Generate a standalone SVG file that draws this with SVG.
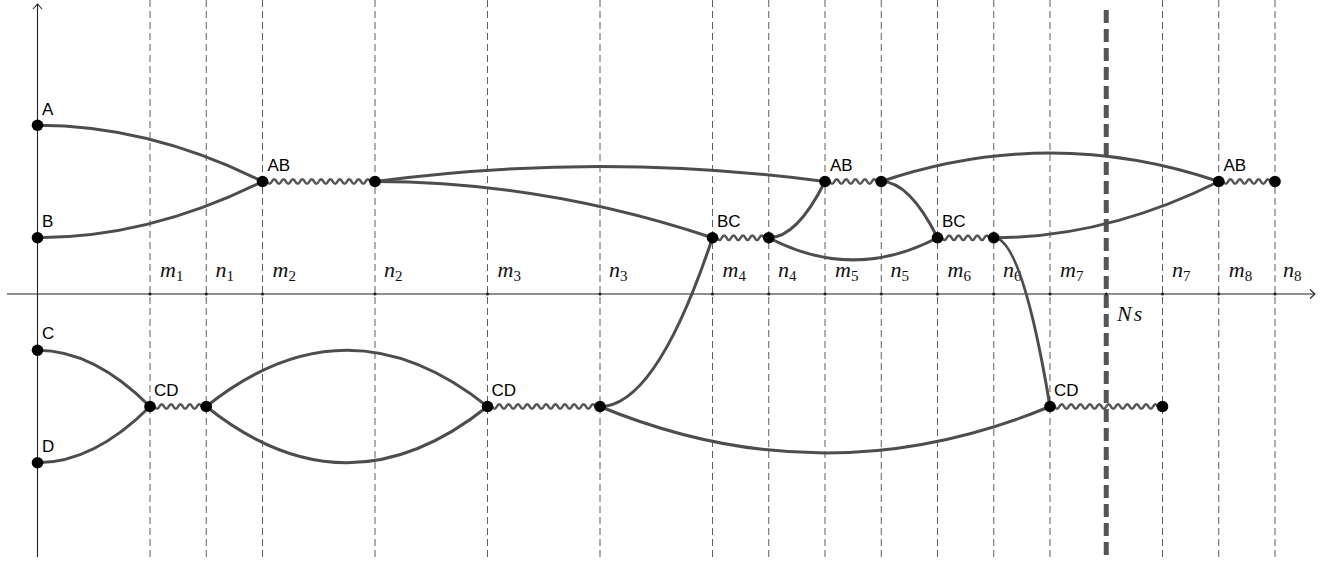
<svg xmlns="http://www.w3.org/2000/svg" xmlns:xlink="http://www.w3.org/1999/xlink" width="1343" height="562" viewBox="0 0 1343 562">
<style>
.grid{stroke:#5e5e5e;stroke-width:1;stroke-dasharray:7 4;fill:none}
.axis{stroke:#222;stroke-width:1.1;fill:none}
.curve{stroke:#4d4d4d;stroke-width:3;fill:none;stroke-linecap:round}
.wave{stroke:#555;stroke-width:2.6;fill:none}
.dot{fill:#000}
.tick{fill:#222}
.nl{font-family:"Liberation Sans",Arial,sans-serif;font-size:17px;fill:#000}
.lab{font-family:"Liberation Serif","Times New Roman",serif;font-style:italic;font-size:22px;fill:#111}
.sub{font-style:normal;font-size:15px}
.ns{stroke:#555;stroke-width:5;stroke-dasharray:13 6;fill:none}
</style>
<defs>
<path id="w" d="M0 0q2.344 -4.6 4.6875 0t4.6875 0t4.6875 0t4.6875 0t4.6875 0t4.6875 0t4.6875 0t4.6875 0t4.6875 0t4.6875 0t4.6875 0t4.6875 0"/>
</defs>
<rect width="1343" height="562" fill="#fff"/>
<g id="grid">
<line class="grid" x1="150" y1="0" x2="150" y2="557"/>
<line class="grid" x1="206.25" y1="0" x2="206.25" y2="557"/>
<line class="grid" x1="262.5" y1="0" x2="262.5" y2="557"/>
<line class="grid" x1="375" y1="0" x2="375" y2="557"/>
<line class="grid" x1="487.5" y1="0" x2="487.5" y2="557"/>
<line class="grid" x1="600" y1="0" x2="600" y2="557"/>
<line class="grid" x1="712.5" y1="0" x2="712.5" y2="557"/>
<line class="grid" x1="768.75" y1="0" x2="768.75" y2="557"/>
<line class="grid" x1="825" y1="0" x2="825" y2="557"/>
<line class="grid" x1="881.25" y1="0" x2="881.25" y2="557"/>
<line class="grid" x1="937.5" y1="0" x2="937.5" y2="557"/>
<line class="grid" x1="993.75" y1="0" x2="993.75" y2="557"/>
<line class="grid" x1="1050" y1="0" x2="1050" y2="557"/>
<line class="grid" x1="1162.5" y1="0" x2="1162.5" y2="557"/>
<line class="grid" x1="1218.75" y1="0" x2="1218.75" y2="557"/>
<line class="grid" x1="1275" y1="0" x2="1275" y2="557"/>
<line class="ns" x1="1106.25" y1="10" x2="1106.25" y2="557"/>
</g>
<g id="axes">
<line class="axis" x1="7" y1="294" x2="1315" y2="294"/>
<path class="axis" d="M1310 289.5L1315 294L1310 298.5"/>
<line class="axis" x1="37.5" y1="557" x2="37.5" y2="4"/>
<path class="axis" d="M33 9L37.5 4L42 9"/>
<g class="tick">
<circle cx="150" cy="294" r="1.6"/><circle cx="206.25" cy="294" r="1.6"/><circle cx="262.5" cy="294" r="1.6"/><circle cx="375" cy="294" r="1.6"/><circle cx="487.5" cy="294" r="1.6"/><circle cx="600" cy="294" r="1.6"/><circle cx="712.5" cy="294" r="1.6"/><circle cx="768.75" cy="294" r="1.6"/><circle cx="825" cy="294" r="1.6"/><circle cx="881.25" cy="294" r="1.6"/><circle cx="937.5" cy="294" r="1.6"/><circle cx="993.75" cy="294" r="1.6"/><circle cx="1050" cy="294" r="1.6"/><circle cx="1106.25" cy="294" r="1.6"/><circle cx="1162.5" cy="294" r="1.6"/><circle cx="1218.75" cy="294" r="1.6"/><circle cx="1275" cy="294" r="1.6"/>
</g>
</g>
<g id="axis-labels">
<text class="lab" x="160" y="277">m<tspan class="sub" dy="4">1</tspan></text>
<text class="lab" x="215.5" y="277">n<tspan class="sub" dy="4">1</tspan></text>
<text class="lab" x="272.5" y="277">m<tspan class="sub" dy="4">2</tspan></text>
<text class="lab" x="384" y="277">n<tspan class="sub" dy="4">2</tspan></text>
<text class="lab" x="497.5" y="277">m<tspan class="sub" dy="4">3</tspan></text>
<text class="lab" x="609" y="277">n<tspan class="sub" dy="4">3</tspan></text>
<text class="lab" x="722.5" y="277">m<tspan class="sub" dy="4">4</tspan></text>
<text class="lab" x="778" y="277">n<tspan class="sub" dy="4">4</tspan></text>
<text class="lab" x="835" y="277">m<tspan class="sub" dy="4">5</tspan></text>
<text class="lab" x="890.5" y="277">n<tspan class="sub" dy="4">5</tspan></text>
<text class="lab" x="947.5" y="277">m<tspan class="sub" dy="4">6</tspan></text>
<text class="lab" x="1003" y="277">n<tspan class="sub" dy="4">6</tspan></text>
<text class="lab" x="1060" y="277">m<tspan class="sub" dy="4">7</tspan></text>
<text class="lab" x="1172" y="277">n<tspan class="sub" dy="4">7</tspan></text>
<text class="lab" x="1228.75" y="277">m<tspan class="sub" dy="4">8</tspan></text>
<text class="lab" x="1283" y="277">n<tspan class="sub" dy="4">8</tspan></text>
<text class="lab" x="1117" y="321" letter-spacing="2">Ns</text>
</g>
<g id="connectors">
<path class="curve" d="M37.5 125.25Q150 125.25 262.5 181.5"/>
<path class="curve" d="M37.5 237.75Q150 237.75 262.5 181.5"/>
<path class="curve" d="M375 181.5Q600 151.5 825 181.5"/>
<path class="curve" d="M375 181.5Q543.75 181.5 712.5 237.75"/>
<path class="curve" d="M768.75 237.75Q796.875 237.75 825 181.5"/>
<path class="curve" d="M768.75 237.75Q853.125 282 937.5 237.75"/>
<path class="curve" d="M881.25 181.5Q909.375 181.5 937.5 237.75"/>
<path class="curve" d="M881.25 181.5Q1050 124.5 1218.75 181.5"/>
<path class="curve" d="M993.75 237.75Q1106.25 237.75 1218.75 181.5"/>
<path class="curve" d="M993.75 237.75Q1021.875 237.75 1050 406.5"/>
<path class="curve" d="M600 406.5Q656.25 406.5 712.5 237.75"/>
<path class="curve" d="M37.5 350.25Q93.75 350.25 150 406.5"/>
<path class="curve" d="M37.5 462.75Q93.75 462.75 150 406.5"/>
<path class="curve" d="M206.25 406.5Q346.875 294 487.5 406.5"/>
<path class="curve" d="M206.25 406.5Q346.875 519 487.5 406.5"/>
<path class="curve" d="M600 406.5Q825 499.5 1050 406.5"/>
<g class="wave">
<use xlink:href="#w" href="#w" x="262.5" y="181.5"/><use xlink:href="#w" href="#w" x="318.75" y="181.5"/>
<use xlink:href="#w" href="#w" x="712.5" y="237.75"/>
<use xlink:href="#w" href="#w" x="825" y="181.5"/>
<use xlink:href="#w" href="#w" x="937.5" y="237.75"/>
<use xlink:href="#w" href="#w" x="1218.75" y="181.5"/>
<use xlink:href="#w" href="#w" x="150" y="406.5"/>
<use xlink:href="#w" href="#w" x="487.5" y="406.5"/><use xlink:href="#w" href="#w" x="543.75" y="406.5"/>
<use xlink:href="#w" href="#w" x="1050" y="406.5"/><use xlink:href="#w" href="#w" x="1106.25" y="406.5"/>
</g>
</g>
<g id="nodes">
<g id="node-A"><circle class="dot" cx="37.5" cy="125.25" r="5.8"/><text class="nl" x="42" y="115">A</text></g>
<g id="node-B"><circle class="dot" cx="37.5" cy="237.75" r="5.8"/><text class="nl" x="42" y="227">B</text></g>
<g id="node-C"><circle class="dot" cx="37.5" cy="350.25" r="5.8"/><text class="nl" x="42" y="339">C</text></g>
<g id="node-D"><circle class="dot" cx="37.5" cy="462.75" r="5.8"/><text class="nl" x="42" y="451.5">D</text></g>
<g id="node-AB1"><circle class="dot" cx="262.5" cy="181.5" r="5.8"/><text class="nl" x="267.5" y="171">AB</text></g>
<g id="node-n2"><circle class="dot" cx="375" cy="181.5" r="5.8"/></g>
<g id="node-AB2"><circle class="dot" cx="825" cy="181.5" r="5.8"/><text class="nl" x="830" y="171">AB</text></g>
<g id="node-n5"><circle class="dot" cx="881.25" cy="181.5" r="5.8"/></g>
<g id="node-AB3"><circle class="dot" cx="1218.75" cy="181.5" r="5.8"/><text class="nl" x="1223.5" y="171">AB</text></g>
<g id="node-n8"><circle class="dot" cx="1275" cy="181.5" r="5.8"/></g>
<g id="node-BC1"><circle class="dot" cx="712.5" cy="237.75" r="5.8"/><text class="nl" x="717" y="226.5">BC</text></g>
<g id="node-n4"><circle class="dot" cx="768.75" cy="237.75" r="5.8"/></g>
<g id="node-BC2"><circle class="dot" cx="937.5" cy="237.75" r="5.8"/><text class="nl" x="942" y="226.5">BC</text></g>
<g id="node-n6"><circle class="dot" cx="993.75" cy="237.75" r="5.8"/></g>
<g id="node-CD1"><circle class="dot" cx="150" cy="406.5" r="5.8"/><text class="nl" x="154" y="396">CD</text></g>
<g id="node-n1"><circle class="dot" cx="206.25" cy="406.5" r="5.8"/></g>
<g id="node-CD2"><circle class="dot" cx="487.5" cy="406.5" r="5.8"/><text class="nl" x="491.5" y="396">CD</text></g>
<g id="node-n3"><circle class="dot" cx="600" cy="406.5" r="5.8"/></g>
<g id="node-CD3"><circle class="dot" cx="1050" cy="406.5" r="5.8"/><text class="nl" x="1054" y="396">CD</text></g>
<g id="node-n7"><circle class="dot" cx="1162.5" cy="406.5" r="5.8"/></g>
</g>
</svg>
